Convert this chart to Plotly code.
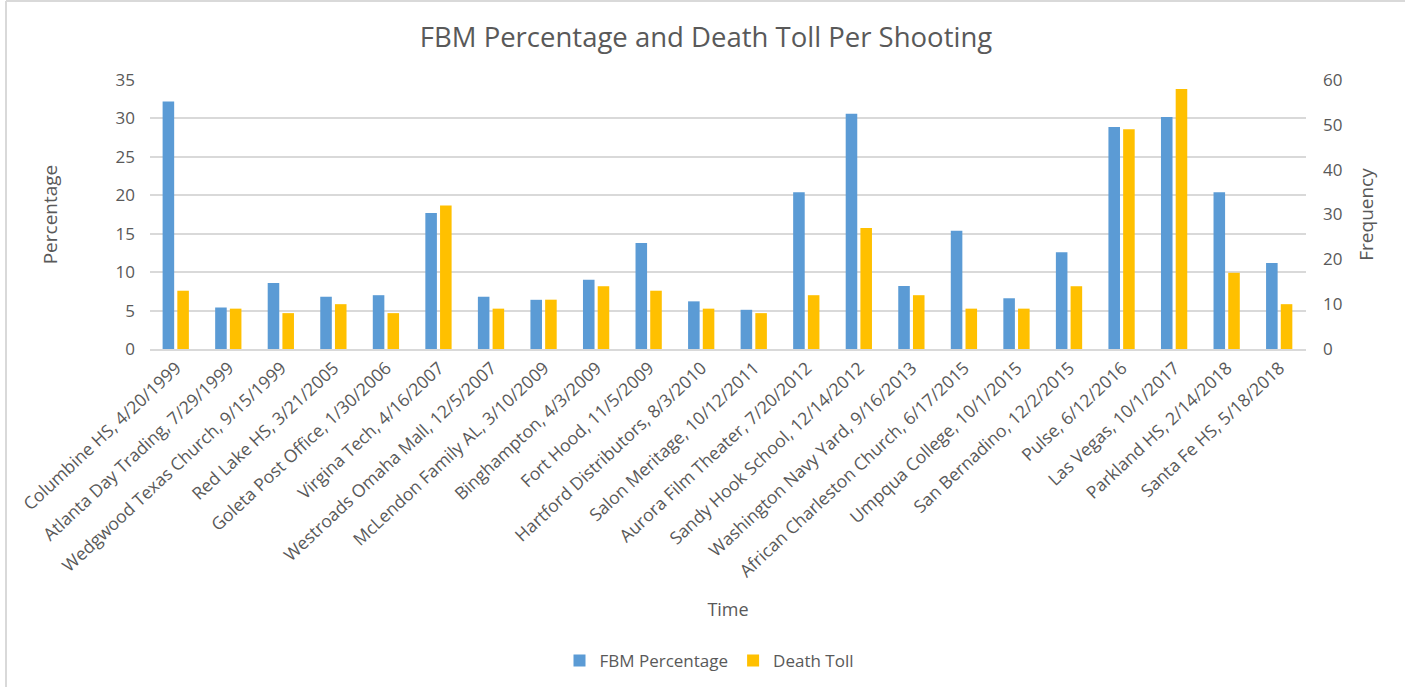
import plotly.graph_objects as go

categories = [
    "Columbine HS, 4/20/1999", "Atlanta Day Trading, 7/29/1999", "Wedgwood Texas Church, 9/15/1999",
    "Red Lake HS, 3/21/2005", "Goleta Post Office, 1/30/2006", "Virgina Tech, 4/16/2007",
    "Westroads Omaha Mall, 12/5/2007", "McLendon Family AL, 3/10/2009", "Binghampton, 4/3/2009",
    "Fort Hood, 11/5/2009", "Hartford Distributors, 8/3/2010", "Salon Meritage, 10/12/2011",
    "Aurora Film Theater, 7/20/2012", "Sandy Hook School, 12/14/2012", "Washington Navy Yard, 9/16/2013",
    "African Charleston Church, 6/17/2015", "Umpqua College, 10/1/2015", "San Bernadino, 12/2/2015",
    "Pulse, 6/12/2016", "Las Vegas, 10/1/2017", "Parkland HS, 2/14/2018", "Santa Fe HS, 5/18/2018",
]
fbm_percentage = [32.2, 5.4, 8.6, 6.8, 7.0, 17.7, 6.8, 6.4, 9.0, 13.8, 6.2, 5.1,
                  20.4, 30.6, 8.2, 15.4, 6.6, 12.6, 28.9, 30.2, 20.4, 11.2]
death_toll = [13, 9, 8, 10, 8, 32, 9, 11, 14, 13, 9, 8, 12, 27, 12, 9, 9, 14, 49, 58, 17, 10]

left_ticks = [0, 5, 10, 15, 20, 25, 30, 35]
right_ticks = [0, 10, 20, 30, 40, 50, 60]

FONT = "Open Sans"
GRAY = "#595959"

fig = go.Figure()
fig.add_trace(go.Bar(x=categories, y=fbm_percentage, name="FBM Percentage",
                     marker=dict(color="#5B9BD5", line=dict(width=0)),
                     width=0.22, offset=-0.26, yaxis="y"))
fig.add_trace(go.Bar(x=categories, y=death_toll, name="Death Toll",
                     marker=dict(color="#FFC000", line=dict(width=0)),
                     width=0.22, offset=0.02, yaxis="y2"))

ml, mr, mt, mb = 150, 99, 80, 338
W, H = 1405, 687
pw, ph = W - ml - mr, H - mt - mb

def px_x(p):
    return (p - ml) / pw

def px_y(p):
    return (H - mb - p) / ph

fig.update_layout(
    width=W, height=H,
    margin=dict(l=ml, r=mr, t=mt, b=mb, autoexpand=False),
    paper_bgcolor="white", plot_bgcolor="white",
    font=dict(family=FONT, color=GRAY, size=14),
    title=dict(text="FBM Percentage and Death Toll Per Shooting",
               font=dict(family=FONT, size=27.5, color=GRAY),
               xref="container", x=706 / W, xanchor="center",
               yref="container", y=1 - 37 / H, yanchor="middle"),
    showlegend=True,
    legend=dict(orientation="h", x=px_x(709), xanchor="center", y=px_y(661), yanchor="middle",
                font=dict(family=FONT, size=17, color=GRAY), itemwidth=30, traceorder="normal"),
    bargap=0.5,
    xaxis=dict(tickangle=-43, tickfont=dict(family=FONT, size=17.5, color=GRAY),
               showgrid=False, showline=True, linecolor="#D9D9D9", linewidth=2,
               ticks="", title=dict(text="Time", font=dict(family=FONT, size=18, color=GRAY), standoff=22)),
    yaxis=dict(range=[0, 35], tickvals=left_ticks, showgrid=True, gridcolor="#D9D9D9", gridwidth=2,
               zeroline=False, showline=False, ticks="", ticklabelstandoff=14,
               tickfont=dict(family=FONT, size=17, color=GRAY),
               title=dict(text="Percentage", font=dict(family=FONT, size=19, color=GRAY), standoff=52)),
    yaxis2=dict(range=[0, 60], tickvals=right_ticks, overlaying="y", side="right", showgrid=False,
                zeroline=False, showline=False, ticks="", ticklabelstandoff=16,
                tickfont=dict(family=FONT, size=17, color=GRAY),
                title=dict(text="Frequency", font=dict(family=FONT, size=19, color=GRAY), standoff=18)),
    shapes=[
        dict(type="line", xref="paper", yref="paper", x0=px_x(6), x1=px_x(W + 5), y0=px_y(1), y1=px_y(1),
             line=dict(color="#D9D9D9", width=2)),
        dict(type="line", xref="paper", yref="paper", x0=px_x(6), x1=px_x(6), y0=px_y(1), y1=px_y(H + 5),
             line=dict(color="#D9D9D9", width=2)),
    ],
)

fig.write_html("out.html")
